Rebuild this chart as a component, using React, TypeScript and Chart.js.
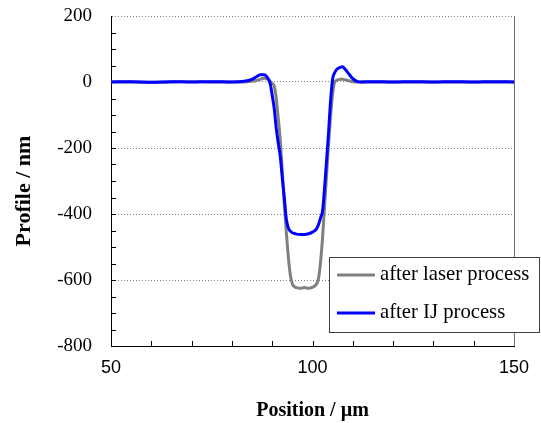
import React, { useEffect, useRef } from "react";
import { Chart, registerables } from "chart.js";

Chart.register(...registerables);

// ---- data ----
const positions = [
  50, 55, 60, 65, 70, 75, 80, 83, 85, 86, 87, 88, 89,
  89.5, 90, 90.5, 91, 91.5, 92, 92.5, 93, 93.5, 94, 94.5, 95, 95.5, 96,
  97, 98, 99, 100, 101,
  101.5, 102, 102.5, 103, 103.5, 104, 104.5, 105, 105.5, 106,
  107, 107.5, 108, 109, 110, 111, 112,
  115, 120, 125, 130, 135, 140, 145, 150,
];

const laserProfile = [
  0, 0, -1, 0, 1, 0, 0, 0, 2, 4, 8, 11, 8,
  2, -4, -12, -50, -110, -175, -270, -370, -455, -530, -585, -612, -620, -623,
  -625, -623, -625, -622, -612,
  -595, -545, -470, -375, -280, -185, -100, -35, 0, 5,
  8, 8, 7, 4, 1, 0, 0,
  0, 0, 0, 0, 0, 0, 0, 0,
];

const ijProfile = [
  0, 1, -1, 1, 0, 1, 0, 2, 8, 15, 22, 22, 10,
  -5, -40, -80, -140, -185, -225, -290, -350, -415, -442, -452, -457, -459, -461,
  -462, -462, -460, -455, -445,
  -432, -412, -390, -320, -237, -150, -55, 10, 28, 38,
  45, 46, 40, 25, 10, 2, 0,
  1, 0, 1, 0, 1, 0, 1, 0,
];

const seriesLabels = ["after laser process", "after IJ process"];
const seriesColors = ["#808080", "#0000ff"];
const xTitle = "Position / µm";
const yTitle = "Profile / nm";
const xMin = 50, xMax = 150, xStep = 50, xMinorStep = 10;
const yMin = -800, yMax = 200, yStep = 200, yMinorStep = 50;

const SERIF = '"Liberation Serif", "Times New Roman", serif';
const SANS = '"Liberation Sans", Arial, sans-serif';

const decorPlugin = {
  id: "decor",
  beforeDatasetsDraw(chart: any) {
    const { ctx, chartArea, scales } = chart;
    const xs = scales.x, ys = scales.y;
    ctx.save();
    // right border
    ctx.strokeStyle = "#707070";
    ctx.lineWidth = 1;
    ctx.beginPath();
    ctx.moveTo(Math.round(chartArea.right) + 0.5, chartArea.top);
    ctx.lineTo(Math.round(chartArea.right) + 0.5, chartArea.bottom);
    ctx.stroke();
    // inward minor ticks
    ctx.strokeStyle = "#000";
    ctx.beginPath();
    for (let v = xMin + xMinorStep; v < xMax; v += xMinorStep) {
      const px = Math.round(xs.getPixelForValue(v)) + 0.5;
      ctx.moveTo(px, chartArea.bottom);
      ctx.lineTo(px, chartArea.bottom - 5);
    }
    for (let v = yMin + yMinorStep; v < yMax; v += yMinorStep) {
      const py = Math.round(ys.getPixelForValue(v)) + 0.5;
      ctx.moveTo(chartArea.left, py);
      ctx.lineTo(chartArea.left + 5, py);
    }
    ctx.stroke();
    // y axis title
    ctx.save();
    ctx.translate(24, 191);
    ctx.rotate(-Math.PI / 2);
    ctx.fillStyle = "#000";
    ctx.font = `bold 22px ${SERIF}`;
    ctx.textAlign = "center";
    ctx.textBaseline = "middle";
    ctx.fillText(yTitle, 0, 0);
    ctx.restore();
    ctx.restore();
  },
  afterDraw(chart: any) {
    const { ctx } = chart;
    const ds = chart.data.datasets;
    const bx = 329.5, by = 257.5, bw = 210, bh = 75;
    ctx.save();
    ctx.fillStyle = "#fff";
    ctx.fillRect(bx, by, bw, bh);
    ctx.strokeStyle = "#404040";
    ctx.lineWidth = 1;
    ctx.strokeRect(bx, by, bw, bh);
    ds.forEach((d: any, i: number) => {
      const y = 275 + i * 38;
      ctx.strokeStyle = d.borderColor;
      ctx.lineWidth = 3;
      ctx.beginPath();
      ctx.moveTo(337, y);
      ctx.lineTo(375, y);
      ctx.stroke();
      ctx.fillStyle = "#000";
      ctx.font = `20.7px ${SERIF}`;
      ctx.textBaseline = "middle";
      ctx.textAlign = "left";
      ctx.fillText(d.label, 380, y);
    });
    ctx.restore();
  },
};

export default function App() {
  const ref = useRef<HTMLCanvasElement>(null);
  useEffect(() => {
    if (!ref.current) return;
    const mk = (vals: number[]) => positions.map((x, i) => ({ x, y: vals[i] }));
    const chart = new Chart(ref.current, {
      type: "line",
      data: {
        datasets: [
          {
            label: seriesLabels[0],
            data: mk(laserProfile),
            borderColor: seriesColors[0],
            borderWidth: 3,
            pointRadius: 0,
            cubicInterpolationMode: "monotone",
            order: 1,
          },
          {
            label: seriesLabels[1],
            data: mk(ijProfile),
            borderColor: seriesColors[1],
            borderWidth: 3,
            pointRadius: 0,
            cubicInterpolationMode: "monotone",
            order: 0,
          },
        ],
      },
      options: {
        animation: false,
        responsive: true,
        maintainAspectRatio: false,
        layout: { padding: { top: 16, right: 27, left: 0, bottom: 0 } },
        plugins: { legend: { display: false }, tooltip: { enabled: false } },
        scales: {
          x: {
            type: "linear",
            min: xMin,
            max: xMax,
            afterFit: (s: any) => { s.height = 77; },
            ticks: {
              stepSize: xStep,
              color: "#000",
              padding: 11,
              maxRotation: 0,
              font: { family: SANS, size: 18 },
            },
            grid: { display: false, drawTicks: false },
            border: { display: true, color: "#000", width: 1 },
            title: {
              display: true,
              text: xTitle,
              color: "#000",
              font: { family: SERIF, size: 20, weight: "bold" },
              padding: { top: 0, bottom: 0 },
            },
          },
          y: {
            type: "linear",
            min: yMin,
            max: yMax,
            afterFit: (s: any) => {
              s.width = 111;
              s.paddingTop = 0;
              s.paddingBottom = 0;
            },
            ticks: {
              stepSize: yStep,
              color: "#000",
              padding: 19,
              font: { family: SERIF, size: 19 },
            },
            grid: { color: "#808080", lineWidth: 1, drawTicks: false },
            border: { display: true, color: "#000", width: 1, dash: [1, 2] },
            title: { display: false, text: yTitle },
          },
        },
      },
      plugins: [decorPlugin],
    } as any);
    return () => chart.destroy();
  }, []);
  return (
    <div style={{ position: "fixed", left: 0, top: 0, width: 541, height: 423, background: "#fff" }}>
      <canvas ref={ref} />
    </div>
  );
}
